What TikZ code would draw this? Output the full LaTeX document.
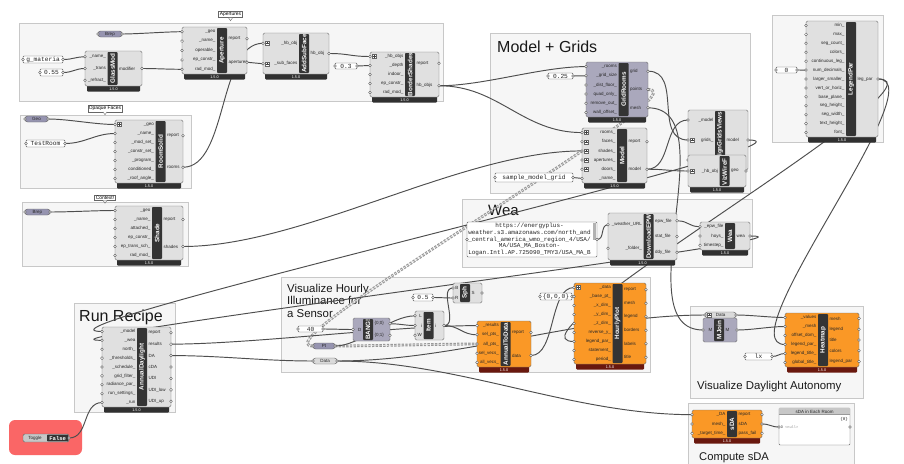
\documentclass[tikz,border=0pt]{standalone}
\usepackage{fontspec}
\setmainfont{Liberation Sans}
\newfontfamily\monof{Liberation Mono}
\pgfdeclarelayer{bg}
\pgfdeclarelayer{wires}
\pgfsetlayers{bg,wires,main}
\newif\ifghbar \ghbartrue
\newif\ifghtop \ghtopfalse
\newif\ifghbot \ghbotfalse
\newdimen\ghlen
\definecolor{graybody}{RGB}{224,224,224}
\definecolor{graybar}{RGB}{48,48,48}
\definecolor{orangebody}{RGB}{250,152,38}
\definecolor{orangebar}{RGB}{105,24,14}
\definecolor{lavbody}{RGB}{170,168,188}
\definecolor{lavbar}{RGB}{48,48,48}
\definecolor{stripc}{RGB}{52,52,52}
\definecolor{wirec}{RGB}{78,78,78}
\definecolor{grpfill}{RGB}{246,246,246}
\definecolor{grpline}{RGB}{200,200,200}
\definecolor{togred}{RGB}{250,102,102}
\definecolor{paramlav}{RGB}{150,148,176}
\definecolor{paramgray}{RGB}{218,218,218}
\newcommand\striplabfont{\fontsize{6.3}{7}\selectfont\bfseries}
\tikzset{
  port/.style={draw=black!70, fill=white, line width=0.35pt},
  portlab/.style={font=\fontsize{4.5}{5}\selectfont, inner sep=0pt, text=black!85},
  striplab/.style={font=\striplabfont, text=white, inner sep=0pt},
  verlab/.style={font=\fontsize{3.8}{4}\selectfont, text=white, inner sep=0pt},
  panlab/.style={font=\monof\fontsize{6.2}{6.8}\selectfont, inner sep=0pt, text=black!85},
  wire/.style={draw=wirec, line width=0.95pt},
  treewire/.style={draw=black!40, line width=1.25pt, dash pattern=on 2.4pt off 1.3pt, double=white, double distance=0.35pt},
  grp/.style={fill=grpfill, draw=grpline, line width=0.5pt},
  tag/.style={draw=black!60, fill=white, font=\fontsize{4.9}{5.5}\selectfont, inner xsep=1.2pt, inner ysep=1pt},
  bigtitle/.style={anchor=base west, inner sep=0pt, font=\fontsize{16}{18}\selectfont, text=black!90},
  midtitle/.style={anchor=base west, inner sep=0pt, font=\fontsize{11.4}{13}\selectfont, text=black!90},
}
% component: id, style, x1, y1, x2, y2, strip centre, title, inputs ; then outputs
\newcommand\ghcomp[9]{%
  \def\gid{#1}\colorlet{cbody}{#2body}\colorlet{cbar}{#2bar}%
  \def\gxa{#3}\def\gya{#4}\def\gxb{#5}\def\gyb{#6}\def\gsx{#7}\def\gtitle{#8}\def\gins{#9}%
  \ghcompB}
\newcommand\ghcompB[1]{%
  \def\gouts{#1}%
  \ifghbar
    \fill[cbar, rounded corners=1pt] (\gxa+2,\gyb-3) rectangle (\gxb-2,\gyb+5.5);
    \node[verlab] (\gid-ver) at ({(\gxa+\gxb)/2},\gyb+2.9) {1.5.0};
  \fi
  \draw[black!55, fill=cbody, rounded corners=1.5pt, line width=0.4pt] (\gxa,\gya) rectangle (\gxb,\gyb);
  \fill[stripc, rounded corners=0.8pt] (\gsx-5,\gya+1) rectangle (\gsx+5,\gyb-1);
  \ghlen=\gyb pt \advance\ghlen by -\gya pt \advance\ghlen by -3pt
  \setbox0\hbox{\striplabfont\gtitle}%
  \ifdim\wd0>\ghlen \ghbottrue \fi
  \begin{scope}
    \clip (\gsx-5,\gya+1) rectangle (\gsx+5,\gyb-1);
    \ifghtop
      \node[striplab, rotate=90, anchor=east] (\gid) at (\gsx,\gya+1.8) {\gtitle};
    \else
    \ifghbot
      \node[striplab, rotate=90, anchor=west] (\gid) at (\gsx,\gyb-1.8) {\gtitle};
    \else
      \node[striplab, rotate=90] (\gid) at (\gsx,{(\gya+\gyb)/2}) {\gtitle};
    \fi
    \fi
  \end{scope}
  \ghbotfalse
  \foreach \lbl [count=\kk] in \gins {\xdef\gn{\kk}}%
  \foreach \lbl [count=\kk] in \gins {%
    \pgfmathsetmacro\yy{\gya+(\kk-0.5)*(\gyb-\gya)/\gn}%
    \coordinate (\gid-i\kk) at (\gxa,\yy);
    \node[portlab, anchor=east] (\gid-li\kk) at (\gsx-6.5,\yy) {\lbl};
    \draw[port] (\gxa,\yy) circle[radius=1.4pt];
  }%
  \foreach \lbl [count=\kk] in \gouts {\xdef\gn{\kk}}%
  \foreach \lbl [count=\kk] in \gouts {%
    \pgfmathsetmacro\yy{\gya+(\kk-0.5)*(\gyb-\gya)/\gn}%
    \coordinate (\gid-o\kk) at (\gxb,\yy);
    \node[portlab, anchor=west] (\gid-lo\kk) at (\gsx+6.5,\yy) {\lbl};
    \draw[port] (\gxb,\yy) circle[radius=1.4pt];
  }%
}
% parameter capsule: id, x1,y1,x2,y2, label, fill
\newcommand\ghparam[7]{%
  \draw[black!60, fill=#7, rounded corners=2.6pt, line width=0.4pt] (#2,#3) rectangle (#4,#5);
  \node[portlab] (#1) at ({(#2+#4)/2},{(#3+#5)/2}) {#6};
  \coordinate (#1-i) at (#2,{(#3+#5)/2});
  \coordinate (#1-o) at (#4,{(#3+#5)/2});
  \draw[port] (#1-i) circle[radius=1.4pt];
  \draw[port] (#1-o) circle[radius=1.4pt];
}
% panel: id, x1,y1,x2,y2, text
\newcommand\ghpanel[6]{%
  \draw[black!65, fill=white, rounded corners=1pt, line width=0.4pt] (#2,#3) rectangle (#4,#5);
  \node[panlab] (#1) at ({(#2+#4)/2},{(#3+#5)/2}) {#6};
  \coordinate (#1-i) at (#2,{(#3+#5)/2});
  \coordinate (#1-o) at (#4,{(#3+#5)/2});
  \draw[port] (#1-i) circle[radius=1.4pt];
  \draw[port] (#1-o) circle[radius=1.4pt];
}
\newcommand\ghplus[1]{%
  \draw[black!60, fill=white, line width=0.3pt] ([shift={(2.5pt,2pt)}]#1) rectangle ++(4pt,-4pt);
  \draw[black!75, line width=0.3pt] ([shift={(3.3pt,0pt)}]#1) -- ++(2.4pt,0pt) ([shift={(4.5pt,1.2pt)}]#1) -- ++(0pt,-2.4pt);
}
\newcommand\ghwire[4][wire]{\draw[#1] (#2) .. controls +(#4,0) and +(-#4,0) .. (#3);}
\newcommand\ghtag[3]{%
  \node[tag] (#1) at (#2) {#3};
  \filldraw[fill=white, draw=black!60, line width=0.4pt] ([xshift=-2pt]#1.south) -- ([yshift=-2.8pt]#1.south) -- ([xshift=2pt]#1.south);
}
\begin{document}
\begin{tikzpicture}[x=1pt,y=-1pt]
\useasboundingbox (0,0) rectangle (904,463);
\begin{pgfonlayer}{bg}
  \fill[white] (0,0) rectangle (904,463);
  \draw[grp] (19,23) rectangle (443,101);
  \draw[grp] (20,115) rectangle (191,188);
  \draw[grp] (22,202) rectangle (188,266);
  \draw[grp] (490,33) rectangle (750,193);
  \draw[grp] (772,15) rectangle (883,142);
  \draw[grp] (462,199) rectangle (752,267);
  \draw[grp] (281,277) rectangle (650,372);
  \draw[grp] (74,303) rectangle (175,412);
  \draw[grp] (690,306) rectangle (863,398);
  \draw[grp] (688,403) rectangle (854,470);
  \fill[togred, rounded corners=6pt] (9,420) rectangle (82,455);
  \node[bigtitle] (tModel) at (497,52) {Model + Grids};
  \node[bigtitle] (tRun) at (79,321) {Run Recipe};
  \node[bigtitle, font=\fontsize{15}{17}\selectfont] (tWea) at (488,215) {Wea};
  \node[midtitle] (tH1) at (287,292) {Visualize Hourly};
  \node[midtitle] (tH2) at (287,304.5) {Illuminance for};
  \node[midtitle] (tH3) at (287,317) {a Sensor};
  \node[midtitle] (tDA) at (697,389) {Visualize Daylight Autonomy};
  \node[midtitle, font=\fontsize{11.2}{13}\selectfont] (tsDA) at (699,460) {Compute sDA};
\end{pgfonlayer}

% tags
\ghtag{tagAp}{230.5,14.5}{Apertures}
\ghtag{tagOp}{105,108.5}{Opaque Faces}
\ghtag{tagCx}{105,197.5}{Context!}

% apertures group
\ghparam{brepA}{98}{31}{122}{37}{Brep}{paramlav}
\ghpanel{gmat}{23}{56}{63}{63}{g\_materia}
\ghpanel{p055}{40}{69}{63}{76}{0.55}
\ghcomp{gm}{gray}{85}{51}{142}{86}{112.5}{GlassMod}{\_name\_,\_trans,\_refract\_}{modifier}
\ghcomp{ap}{gray}{182}{27}{247}{74}{222}{Aperture}{\_geo,\_name\_,operable\_,ep\_constr\_,rad\_mod\_}{report,apertures}
\ghcomp{asf}{gray}{263}{33}{329}{74}{304}{AddSubFace}{\_hb\_obj,\_sub\_faces}{hb\_obj}
\ghplus{asf-i1}\ghplus{asf-i2}
\ghpanel{p03}{335}{63}{357}{69}{0.3}
\ghcomp{bs}{gray}{370}{52}{439}{97}{410}{BorderShades}{\_hb\_objs,\_depth,indoor\_,ep\_constr\_,rad\_mod\_}{report,hb\_objs}
\ghplus{bs-i1}

% opaque faces
\ghparam{geo}{25}{116}{48}{122}{Geo}{paramlav}
\ghpanel{troom}{26}{140}{65}{147}{TestRoom}
\ghcomp{rs}{gray}{115}{120}{183}{183}{160.5}{RoomSolid}{\_geo,\_name\_,\_mod\_set\_,\_constr\_set\_,\_program\_,conditioned\_,\_roof\_angle\_}{report,rooms}
\ghplus{rs-i1}

% context
\ghparam{brepC}{25}{209}{50}{215}{Brep}{paramlav}
\ghcomp{sh}{gray}{115}{206}{183}{260}{157}{Shade}{\_geo,\_name\_,attached\_,ep\_constr\_,ep\_trans\_sch\_,rad\_mod\_}{report,shades}

% model + grids
\ghpanel{p025}{548}{73}{573}{79}{0.25}
\ghcomp{gr}{lav}{586}{62}{648}{117}{623.5}{GridRooms}{\_rooms,\_grid\_size,\_dist\_floor\_,quad\_only\_,remove\_out\_,wall\_offset\_}{grid,points,mesh}
\ghpanel{smg}{495}{173}{573}{182}{sample\_model\_grid}
\ghcomp{mdl}{gray}{582}{128}{647}{183}{622}{Model}{rooms\_,faces\_,shades\_,apertures\_,doors\_,\_name\_}{report,model}
\ghplus{mdl-i1}\ghplus{mdl-i2}\ghplus{mdl-i3}\ghplus{mdl-i4}\ghplus{mdl-i5}
\ghtoptrue\ghbarfalse
\ghcomp{ag}{gray}{688}{110}{748}{170}{720}{lignGridsViews}{\_model,grids\_,{}}{model}
\ghtopfalse\ghbartrue
\ghplus{ag-i2}\ghplus{ag-i3}
\ghbottrue
\ghcomp{vw}{gray}{688}{155}{746}{187}{724.5}{VizWireF}{\_hb\_obj}{geo}
\ghplus{vw-i1}

% legend par
\ghpanel{p0}{776}{67}{797}{73}{0}
\ghcomp{lp}{gray}{806}{21}{878}{137}{851}{LegendPar}{min\_,max\_,seg\_count\_,colors\_,continuous\_leg\_,num\_decimals\_,larger\_smaller\_,vert\_or\_horiz\_,base\_plane\_,seg\_height\_,seg\_width\_,text\_height\_,font\_}{leg\_par}

% wea
\draw[black!65, fill=white, rounded corners=1pt, line width=0.4pt] (467,222) rectangle (597,257);
\fill[black!30] (593,223) rectangle (596.3,240);
\node[panlab, align=center, font=\monof\fontsize{6}{6.8}\selectfont] (url) at (529.5,239.5) {https://energyplus-\\weather.s3.amazonaws.com/north\_and\\\_central\_america\_wmo\_region\_4/USA/\\MA/USA\_MA\_Boston-\\Logan.Intl.AP.725090\_TMY3/USA\_MA\_B};
\coordinate (url-i) at (467,239.5);
\coordinate (url-o) at (597,239.5);
\draw[port] (url-i) circle[radius=1.4pt];
\draw[port] (url-o) circle[radius=1.4pt];
\ghcomp{dl}{gray}{608}{213}{677}{260}{648.5}{DownloadEPW}{\_weather\_URL,\_folder\_}{epw\_file,stat\_file,ddy\_file}
\ghcomp{wea}{gray}{700}{222}{750}{250}{730}{Wea}{\_epw\_file,hoys\_,timestep\_}{wea}

% hourly
\ghpanel{p05}{413}{294}{433}{301}{0.5}
\ghpanel{p40}{298}{326}{323}{332}{40}
\ghpanel{p000}{540}{293}{572}{300}{\{0,0,0\}}
\ghbarfalse
\ghcomp{sph}{gray}{453}{283}{482}{303}{465}{Sph}{B,R}{S}
\ghcomp{bang}{lav}{353}{318}{390}{341}{368}{BANG!}{D}{\{0;0\},\{0;1\}}
\ghcomp{item}{gray}{415}{311}{444}{340}{428.5}{Item}{L,i,W}{i}
\ghcomp{mj}{lav}{703}{318}{737}{342}{719}{MJoin}{M}{M}
\ghbartrue
\ghparam{pt}{313}{343}{335}{349}{Pt}{paramlav}
\ghparam{data}{313}{358}{337}{364}{Data}{paramgray}
\ghcomp{a2d}{orange}{477}{321}{531}{367}{505.5}{AnnualToData}{\_results,sel\_pts\_,all\_pts\_,sel\_vecs\_,all\_vecs\_}{report,data}
\ghcomp{hp}{orange}{574}{283}{646}{364}{617.5}{HourlyPlot}{\_data,\_base\_pt\_,\_x\_dim\_,\_y\_dim\_,\_z\_dim\_,reverse\_y\_,legend\_par\_,statement\_,period\_}{report,mesh,legend,borders,labels,title}
\ghplus{hp-i1}

% daylight autonomy
\ghparam{vdata}{705}{312}{736}{318}{Data}{paramgray}
\ghplus{vdata-i}
\ghpanel{lx}{745}{353}{772}{360}{lx}
\ghcomp{hm}{orange}{785}{313}{859}{367}{823}{Heatmap}{\_values,\_mesh,offset\_dom\_,legend\_par\_,legend\_title\_,global\_title\_}{mesh,legend,title,colors,legend\_par}

% run recipe
\ghcomp{ad}{gray}{102}{327}{171}{407}{142}{AnnualDaylight}{\_model,\_wea,north\_,\_thresholds\_,\_schedule\_,grid\_filter\_,radiance\_par\_,run\_settings\_,\_run}{report,results,DA,cDA,UDI,UDI\_low,UDI\_up}

% toggle
\draw[black!60, fill=black!22, rounded corners=1.5pt, line width=0.4pt] (23,434) rectangle (69,442);
\fill[black!80, rounded corners=0.8pt] (47,434.6) rectangle (68.4,441.4);
\node[portlab] (togl) at (35,438) {Toggle};
\node[inner sep=0pt, text=white, font=\monof\fontsize{5.6}{6}\selectfont\bfseries] (togv) at (57.7,438) {False};
\coordinate (tog-o) at (69,438);
\draw[port] (tog-o) circle[radius=1.4pt];

% sDA
\ghcomp{sda}{orange}{692}{410}{762}{438}{732}{sDA}{\_DA,mesh\_,\_target\_time\_}{report,sDA,pass\_fail}
\draw[black!60, fill=white, rounded corners=1pt, line width=0.4pt] (779,408) rectangle (850,445);
\fill[black!22] (779.3,408.3) rectangle (849.7,414.5);
\draw[black!40, line width=0.3pt] (779.3,414.5) -- (849.7,414.5);
\node[portlab] (sdap) at (814.5,411.4) {sDA in Each Room};
\node[portlab, anchor=east, font=\monof\fontsize{4.2}{5}\selectfont] (sdapb) at (848,419) {\{0\}};
\node[portlab, anchor=west, font=\fontsize{3.6}{4}\selectfont] (sdapi) at (780.6,427) {0};
\node[portlab, anchor=west, text=black!45, font=\monof\fontsize{3.6}{4}\selectfont] (sdapn) at (785,427) {<null>};
\coordinate (sdap-i) at (779,427);
\coordinate (sdap-o) at (850,427);
\draw[port] (sdap-i) circle[radius=1.4pt];
\draw[port] (sdap-o) circle[radius=1.4pt];

% wires
\begin{pgfonlayer}{wires}
\ghwire{brepA-o}{ap-i1}{15}
\ghwire{gmat-o}{gm-i1}{10}
\ghwire{p055-o}{gm-i2}{10}
\ghwire{gm-o1}{ap-i5}{15}
\ghwire{rs-o2}{asf-i1}{45}
\ghwire{ap-o2}{asf-i2}{8}
\ghwire{asf-o1}{bs-i1}{20}
\ghwire{p03-o}{bs-i2}{6}
\ghwire{bs-o2}{gr-i1}{45}
\ghwire{bs-o2}{mdl-i1}{60}
\ghwire{geo-o}{rs-i1}{20}
\ghwire{troom-o}{rs-i2}{20}
\ghwire{brepC-o}{sh-i1}{20}
\ghwire{sh-o2}{mdl-i3}{120}
\ghwire{p025-o}{gr-i2}{6}
\ghwire{smg-o}{mdl-i6}{5}
\ghwire{gr-o1}{ag-i2}{35}
\ghwire{gr-o3}{mj-i1}{80}
\ghwire[treewire]{gr-o2}{pt-i}{60}
\ghwire[treewire]{pt-o}{a2d-i3}{30}
\ghwire{pt-o}{item-i1}{25}
\ghwire{p40-o}{bang-i1}{10}
\ghwire{bang-o1}{item-i2}{10}
\ghwire{item-o1}{sph-i1}{15}
\ghwire{p05-o}{sph-i2}{8}
\ghwire{item-o1}{a2d-i2}{15}
\ghwire{ad-o2}{a2d-i1}{80}
\ghwire{ad-o3}{data-i}{50}
\ghwire{data-o}{sda-i1}{120}
\ghwire{data-o}{vdata-i}{120}
\ghwire{a2d-o2}{hp-i1}{25}
\ghwire{p000-o}{hp-i2}{4}
\ghwire{lp-o1}{hp-i7}{80}
\ghwire{lp-o1}{hm-i4}{60}
\ghwire{url-o}{dl-i1}{8}
\ghwire{dl-o1}{wea-i1}{12}
\ghwire{wea-o1}{ad-i2}{100}
\ghwire{ag-o1}{ad-i1}{100}
\ghwire{mdl-o2}{ag-i1}{25}
\ghwire{mdl-o2}{vw-i1}{20}
\ghwire{vdata-o}{hm-i1}{15}
\ghwire{mj-o1}{hm-i2}{15}
\ghwire{lx-o}{hm-i5}{6}
\ghwire{tog-o}{ad-i9}{20}
\ghwire{sda-o2}{sdap-i}{8}
\ghwire{p0-o}{lp-i6}{5}
\end{pgfonlayer}
\end{tikzpicture}
\end{document}
